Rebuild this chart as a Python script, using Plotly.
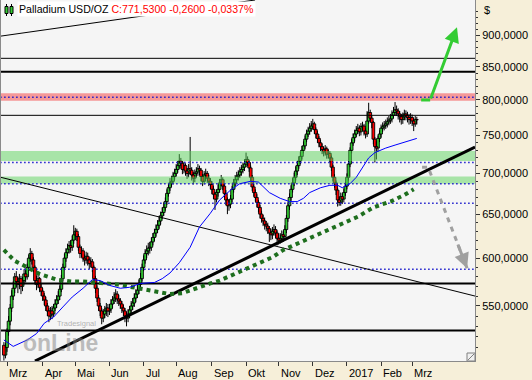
import numpy as np
import pandas as pd
import plotly.graph_objects as go

# ---------------- data ----------------
dates = pd.bdate_range("2016-02-26", "2017-03-06")

opens = [
    512, 503, 510, 525, 535, 548, 560, 568, 580, 575,
    572, 578, 570, 576, 583, 580, 590, 600, 605, 598,
    590, 576, 572, 578, 569, 565, 560, 556, 550, 545,
    540, 545, 542, 548, 552, 556, 560, 567, 578, 590,
    600, 606, 610, 614, 612, 620, 626, 630, 624, 612,
    605, 608, 600, 598, 602, 598, 594, 596, 590, 578,
    568, 558, 550, 545, 538, 542, 545, 548, 545, 547,
    552, 556, 558, 562, 557, 555, 552, 548, 545, 540,
    538, 542, 546, 550, 553, 558, 562, 566, 572, 578,
    590, 598, 605, 608, 611, 612, 618, 623, 628, 632,
    637, 642, 648, 652, 658, 665, 675, 682, 688, 690,
    696, 700, 705, 710, 716, 713, 705, 710, 703, 700,
    706, 704, 698, 694, 700, 702, 706, 704, 696, 690,
    698, 700, 694, 690, 686, 680, 674, 668, 676, 680,
    688, 692, 684, 675, 667, 660, 662, 668, 680, 688,
    692, 696, 698, 702, 705, 708, 712, 718, 714, 707,
    695, 683, 676, 670, 664, 658, 650, 645, 642, 638,
    636, 633, 628, 626, 630, 632, 628, 622, 620, 622,
    626, 624, 632, 645, 660, 670, 680, 688, 695, 703,
    710, 716, 722, 730, 736, 745, 752, 756, 760, 763,
    766, 758, 752, 746, 740, 735, 731, 728, 732, 725,
    726, 720, 708, 695, 688, 679, 667, 664, 671, 668,
    676, 684, 695, 712, 730, 740, 747, 752, 757, 760,
    755, 762, 763, 756, 752, 770, 782, 774, 768, 745,
    735, 733, 746, 752, 760, 762, 764, 766, 769, 771,
    773, 778, 782, 786, 784, 780, 776, 772, 776, 780,
    778, 775, 772, 775, 770, 766, 771.79,
]
highs = [
    515, 514, 528, 540, 552, 566, 575, 584, 586, 580,
    583, 581, 580, 588, 587, 594, 604, 611, 608, 601,
    592, 581, 583, 580, 573, 568, 563, 559, 553, 548,
    549, 550, 552, 557, 561, 565, 571, 582, 594, 605,
    611, 616, 619, 620, 625, 637, 634, 633, 627, 615,
    613, 611, 604, 607, 606, 601, 601, 599, 592, 581,
    571, 561, 553, 548, 547, 550, 553, 552, 552, 557,
    560, 564, 567, 565, 561, 558, 555, 551, 548, 544,
    547, 550, 555, 558, 563, 567, 571, 577, 584, 594,
    603, 610, 614, 617, 618, 623, 628, 633, 638, 643,
    648, 653, 658, 664, 670, 680, 687, 694, 697, 702,
    706, 712, 716, 725, 720, 716, 715, 713, 707, 712,
    748, 708, 702, 705, 708, 712, 710, 707, 699, 703,
    706, 703, 698, 694, 690, 684, 677, 680, 686, 693,
    698, 695, 687, 679, 670, 668, 673, 684, 693, 698,
    702, 704, 708, 711, 714, 718, 727, 722, 717, 710,
    698, 687, 680, 674, 667, 661, 654, 649, 646, 642,
    640, 636, 633, 635, 638, 636, 631, 627, 628, 631,
    630, 637, 649, 664, 675, 685, 694, 701, 709, 716,
    722, 728, 736, 742, 750, 758, 762, 767, 770, 773,
    769, 761, 756, 749, 744, 739, 735, 737, 735, 731,
    729, 723, 711, 699, 691, 682, 671, 676, 675, 681,
    689, 700, 716, 734, 745, 753, 758, 763, 766, 764,
    767, 769, 766, 760, 784, 796, 786, 778, 770, 748,
    742, 750, 757, 765, 768, 770, 772, 775, 777, 780,
    785, 790, 797, 792, 788, 784, 780, 782, 786, 785,
    783, 780, 781, 779, 774, 777, 776,
]
lows = [
    498, 500, 506, 521, 531, 544, 556, 563, 569, 563,
    567, 562, 565, 572, 574, 577, 586, 596, 593, 585,
    572, 566, 568, 564, 560, 555, 551, 545, 540, 534,
    536, 537, 539, 545, 548, 552, 556, 564, 575, 587,
    596, 602, 605, 606, 608, 616, 620, 619, 608, 600,
    601, 596, 592, 594, 592, 588, 590, 585, 574, 563,
    554, 545, 540, 532, 534, 538, 540, 539, 541, 543,
    548, 552, 554, 552, 550, 547, 543, 540, 534, 530,
    534, 538, 542, 546, 549, 554, 558, 562, 568, 575,
    586, 594, 600, 603, 605, 608, 614, 619, 624, 628,
    633, 638, 644, 648, 654, 661, 671, 678, 683, 686,
    692, 696, 701, 706, 706, 699, 700, 697, 693, 695,
    698, 691, 686, 689, 695, 697, 698, 690, 684, 686,
    693, 688, 684, 680, 674, 668, 655, 664, 671, 676,
    684, 679, 670, 661, 650, 654, 657, 664, 676, 684,
    688, 691, 694, 697, 700, 703, 708, 709, 702, 690,
    678, 671, 665, 658, 652, 645, 640, 636, 632, 630,
    627, 618, 620, 621, 625, 622, 614, 615, 616, 617,
    618, 620, 628, 641, 655, 666, 676, 684, 691, 698,
    706, 712, 718, 726, 732, 741, 748, 751, 755, 758,
    752, 746, 740, 734, 729, 725, 722, 723, 719, 719,
    714, 703, 690, 682, 673, 659, 660, 660, 662, 664,
    672, 680, 691, 708, 726, 736, 742, 748, 752, 749,
    750, 756, 750, 746, 748, 766, 768, 760, 738, 714,
    718, 728, 741, 747, 755, 757, 759, 761, 764, 766,
    768, 774, 777, 777, 772, 768, 765, 766, 771, 771,
    768, 765, 766, 763, 756, 762, 765,
]
closes = [
    503, 510, 525, 535, 548, 560, 568, 580, 575, 572,
    578, 570, 576, 583, 580, 590, 600, 605, 598, 590,
    576, 572, 578, 569, 565, 560, 556, 550, 545, 540,
    545, 542, 548, 552, 556, 560, 567, 578, 590, 600,
    606, 610, 614, 612, 620, 626, 630, 624, 612, 605,
    608, 600, 598, 602, 598, 594, 596, 590, 578, 568,
    558, 550, 545, 538, 542, 545, 548, 545, 547, 552,
    556, 558, 562, 557, 555, 552, 548, 545, 540, 538,
    542, 546, 550, 553, 558, 562, 566, 572, 578, 590,
    598, 605, 608, 611, 612, 618, 623, 628, 632, 637,
    642, 648, 652, 658, 665, 675, 682, 688, 690, 696,
    700, 705, 710, 716, 713, 705, 710, 703, 700, 706,
    704, 698, 694, 700, 702, 706, 704, 696, 690, 698,
    700, 694, 690, 686, 680, 674, 668, 676, 680, 688,
    692, 684, 675, 667, 660, 662, 668, 680, 688, 692,
    696, 698, 702, 705, 708, 712, 718, 714, 707, 695,
    683, 676, 670, 664, 658, 650, 645, 642, 638, 636,
    633, 628, 626, 630, 632, 628, 622, 620, 622, 626,
    624, 632, 645, 660, 670, 680, 688, 695, 703, 710,
    716, 722, 730, 736, 745, 752, 756, 760, 763, 766,
    758, 752, 746, 740, 735, 731, 728, 732, 725, 726,
    720, 708, 695, 688, 679, 667, 664, 671, 668, 676,
    684, 695, 712, 730, 740, 747, 752, 757, 760, 755,
    762, 763, 756, 752, 770, 782, 774, 768, 745, 735,
    733, 746, 752, 760, 762, 764, 766, 769, 771, 773,
    778, 782, 786, 784, 780, 776, 772, 776, 780, 778,
    775, 772, 775, 770, 766, 771.79, 771.53,
]

# moving averages (day index into dates, value)
ma_fast_day = [0, 6, 15, 21, 26, 32, 38, 44, 51, 57, 62, 68, 75, 81, 88, 97, 102, 107,
               113, 120, 126, 133, 139, 146, 152, 159, 164, 168, 171, 178, 184, 189, 193,
               197, 204, 210, 215, 218, 223, 227, 231, 235, 239, 246, 252, 258, 266]
ma_fast_val = [517, 511, 517, 523, 533, 539, 549, 559, 568, 577, 576, 571, 568, 569, 573,
               574, 578, 584, 595, 612, 635, 651, 667, 679, 687, 690, 689, 682, 676, 669,
               665, 665, 669, 676, 682, 685, 685, 682, 687, 695, 707, 720, 727, 733, 737,
               741, 746]
ma_slow_day = [0, 7, 14, 19, 23, 34, 44, 51, 62, 73, 83, 94, 107, 115, 120, 126, 133, 139,
               146, 152, 159, 165, 173, 180, 189, 199, 208, 218, 228, 238, 249, 258, 264]
ma_slow_val = [609, 597, 591, 587, 583, 577, 575, 575, 573, 572, 569, 566, 562, 563, 566,
               569, 573, 576, 581, 585, 590, 594, 601, 609, 616, 624, 631, 640, 647, 658,
               665, 673, 680]

# horizontal levels (price, line width)
black_levels = [863, 842, 778, 573, 526]
black_widths = [1, 2, 1, 2, 2]
dotted_levels = [804, 714, 687, 663, 588]
green_zones = [(716, 729), (687, 696)]
red_zones = [(799, 810)]

# trend lines: (day index, price) pairs
trend_up = ([20.0, 303.5], [497.6, 734.4])
trend_down = ([-2.5, 303.5], [695.3, 560.0])
trend_top = ([-2.5, 161.8], [898.4, 959.6])

# projection arrows
bull_flat = ([268.8, 274.6], [800, 800])
bull_tip = (291.9, 913)
bear_path = ([269.4, 273.3, 298.4], [708, 708, 589])

month_labels = ["Mrz", "Apr", "Mai", "Jun", "Jul", "Aug", "Sep", "Okt", "Nov", "Dez",
                "2017", "Feb", "Mrz"]
y_ticks = [550, 600, 650, 700, 750, 800, 850, 900]
y_ticktext = ["550,0000", "600,0000", "650,0000", "700,0000", "750,0000", "800,0000",
              "850,0000", "900,0000"]

# ---------------- figure ----------------
FONT = "Liberation Sans"
x = list(range(len(dates)))
X0, X1 = -1.866, 303.5
Y0, Y1 = 497.6, 959.6
XL, XR = -5, 310

# month start positions
month_pos = []
seen = set()
for i, d in enumerate(dates):
    key = (d.year, d.month)
    if key not in seen:
        seen.add(key)
        month_pos.append(i)
month_pos = [p for p in month_pos if p >= 1][:len(month_labels)]

fig = go.Figure()

# candle bodies as bars, wicks as line segments outside bodies
inc_x, inc_base, inc_len = [], [], []
dec_x, dec_base, dec_len = [], [], []
wick_x, wick_y = [], []
for i, o, h, l, c in zip(x, opens, highs, lows, closes):
    lo_b, hi_b = min(o, c), max(o, c)
    if c >= o:
        inc_x.append(i); inc_base.append(lo_b); inc_len.append(max(hi_b - lo_b, 0.6))
    else:
        dec_x.append(i); dec_base.append(lo_b); dec_len.append(max(hi_b - lo_b, 0.6))
    wick_x += [i, i, None, i, i, None]
    wick_y += [l, lo_b, None, hi_b, h, None]

BODY_W = 1.75
fig.add_trace(go.Bar(x=inc_x, y=inc_len, base=inc_base, width=BODY_W,
                     marker=dict(color="#33cc33", line=dict(color="black", width=0.9)),
                     hoverinfo="skip", showlegend=False))
fig.add_trace(go.Bar(x=dec_x, y=dec_len, base=dec_base, width=BODY_W,
                     marker=dict(color="#ff0000", line=dict(color="black", width=0.9)),
                     hoverinfo="skip", showlegend=False))
fig.add_trace(go.Scatter(x=wick_x, y=wick_y, mode="lines",
                         line=dict(color="black", width=1),
                         hoverinfo="skip", showlegend=False))

for lo, hi in green_zones:
    fig.add_trace(go.Scatter(x=[XL, XR, XR, XL, XL], y=[lo, lo, hi, hi, lo], mode="lines",
                             fill="toself", fillcolor="rgba(91,211,91,0.5)",
                             line=dict(width=0), hoverinfo="skip", showlegend=False))
for lo, hi in red_zones:
    fig.add_trace(go.Scatter(x=[XL, XR, XR, XL, XL], y=[lo, lo, hi, hi, lo], mode="lines",
                             fill="toself", fillcolor="rgba(245,60,60,0.5)",
                             line=dict(width=0), hoverinfo="skip", showlegend=False))

for v in dotted_levels:
    fig.add_trace(go.Scatter(x=[XL, XR], y=[v, v], mode="lines",
                             line=dict(color="#1a1acc", width=1.5, dash="1.5px,2.5px"),
                             hoverinfo="skip", showlegend=False))

for v, w in zip(black_levels, black_widths):
    fig.add_trace(go.Scatter(x=[XL, XR], y=[v, v], mode="lines",
                             line=dict(color="black", width=w),
                             hoverinfo="skip", showlegend=False))

for tx, ty, w in [(trend_top[0], trend_top[1], 1), (trend_down[0], trend_down[1], 1),
                  (trend_up[0], trend_up[1], 3)]:
    fig.add_trace(go.Scatter(x=tx, y=ty, mode="lines", line=dict(color="black", width=w),
                             hoverinfo="skip", showlegend=False))

fig.add_trace(go.Scatter(x=ma_slow_day, y=ma_slow_val, mode="lines",
                         line=dict(color="#1e6e1e", width=4, dash="4px,4px"),
                         hoverinfo="skip", showlegend=False))
fig.add_trace(go.Scatter(x=ma_fast_day, y=ma_fast_val, mode="lines",
                         line=dict(color="#0000ff", width=1),
                         hoverinfo="skip", showlegend=False))

# bull projection
fig.add_trace(go.Scatter(x=bull_flat[0], y=bull_flat[1], mode="lines",
                         line=dict(color="#33cc33", width=3),
                         hoverinfo="skip", showlegend=False))
# bear projection
fig.add_trace(go.Scatter(x=bear_path[0], y=bear_path[1], mode="lines",
                         line=dict(color="#a0a0a0", width=3, dash="5px,5px"),
                         hoverinfo="skip", showlegend=False))

annotations = []
annotations.append(dict(
    x=bull_tip[0], y=np.log10(bull_tip[1]), ax=bull_flat[0][1], ay=np.log10(bull_flat[1][1]),
    xref="x", yref="y", axref="x", ayref="y", text="", showarrow=True,
    arrowhead=2, arrowsize=1, arrowwidth=3, arrowcolor="#33cc33"))
bx0, by0 = bear_path[0][1], bear_path[1][1]
bx1, by1 = bear_path[0][2], bear_path[1][2]
annotations.append(dict(
    x=bx1, y=np.log10(by1), ax=bx1 - (bx1 - bx0) * 0.25,
    ay=np.log10(by1) - (np.log10(by1) - np.log10(by0)) * 0.25,
    xref="x", yref="y", axref="x", ayref="y", text="", showarrow=True,
    arrowhead=2, arrowsize=1, arrowwidth=3, arrowcolor="#a0a0a0"))

# month labels (left aligned at tick)
for p, lab in zip(month_pos, month_labels):
    annotations.append(dict(x=p, y=-0.033, xref="x", yref="paper", text=lab,
                            xanchor="left", yanchor="middle", xshift=0, showarrow=False,
                            font=dict(family=FONT, size=11, color="black")))

# title
annotations.append(dict(
    x=0.034, y=0.997, xref="paper", yref="paper", xanchor="left", yanchor="top",
    text="Palladium USD/OZ <span style='color:#ff0000'>C:771,5300 -0,2600 -0,0337%</span>",
    showarrow=False, bgcolor="#ffffff", borderpad=1,
    font=dict(family=FONT, size=10.6, color="black")))
# currency
annotations.append(dict(x=1.0148, y=0.972, xref="paper", yref="paper", xanchor="left",
                        yanchor="middle", text="$", showarrow=False,
                        font=dict(family=FONT, size=11, color="black")))
# watermark
annotations.append(dict(x=0.125, y=0.05, xref="paper", yref="paper", xanchor="center",
                        yanchor="middle", text="<b>onLine</b>", showarrow=False,
                        font=dict(family=FONT, size=23, color="rgba(130,130,130,0.5)")))
annotations.append(dict(x=0.16, y=0.105, xref="paper", yref="paper", xanchor="center",
                        yanchor="middle", text="Tradesignal", showarrow=False,
                        font=dict(family=FONT, size=7.5, color="rgba(130,130,130,0.6)")))

def pxx(px):
    return (px - 1) / 474.0

def pxy(py):
    return (361 - py) / 361.0

shapes = []
# title icon (two small candles)
for cx in (6.5, 11.5):
    shapes.append(dict(type="line", xref="paper", yref="paper", x0=pxx(cx), x1=pxx(cx),
                       y0=pxy(4), y1=pxy(16), line=dict(color="black", width=1)))
    shapes.append(dict(type="rect", xref="paper", yref="paper", x0=pxx(cx - 1.5),
                       x1=pxx(cx + 1.5), y0=pxy(6.5), y1=pxy(13.5),
                       fillcolor="#33cc33", line=dict(color="black", width=1)))
# resize grip
shapes.append(dict(type="rect", xref="paper", yref="paper", x0=pxx(467), x1=pxx(475),
                   y0=pxy(361), y1=pxy(353), fillcolor="#f0f0f0",
                   line=dict(color="#808080", width=1)))
shapes.append(dict(type="line", xref="paper", yref="paper", x0=pxx(468), x1=pxx(474),
                   y0=pxy(360), y1=pxy(354), line=dict(color="#808080", width=1)))

minor_vals = [v for v in range(500, 960, 10) if v % 50 != 0]

fig.update_layout(
    width=532, height=380,
    margin=dict(l=1, r=57, t=0, b=19),
    paper_bgcolor="#f6efd9",
    plot_bgcolor="#f5f5f5",
    showlegend=False,
    barmode="overlay",
    annotations=annotations,
    shapes=shapes,
    font=dict(family=FONT, size=11, color="black"),
    xaxis=dict(
        range=[X0, X1], showgrid=False, zeroline=False,
        tickmode="array", tickvals=month_pos, showticklabels=False,
        ticks="outside", ticklen=4, tickcolor="#333333", tickwidth=1,
        showline=True, linecolor="#8a8a8a", linewidth=1, mirror=True,
    ),
    yaxis=dict(
        type="log", side="right", range=[np.log10(Y0), np.log10(Y1)],
        showgrid=False, zeroline=False,
        tickmode="array", tickvals=y_ticks, ticktext=y_ticktext,
        ticks="outside", ticklen=4, tickcolor="#333333", tickwidth=1,
        tickfont=dict(family=FONT, size=11, color="black"),
        minor=dict(tickmode="array", tickvals=minor_vals, ticks="outside", ticklen=2,
                   tickcolor="#333333", showgrid=False),
        showline=True, linecolor="#8a8a8a", linewidth=1, mirror=True,
    ),
)

fig.write_html("out.html", config={"displayModeBar": False, "staticPlot": True})
